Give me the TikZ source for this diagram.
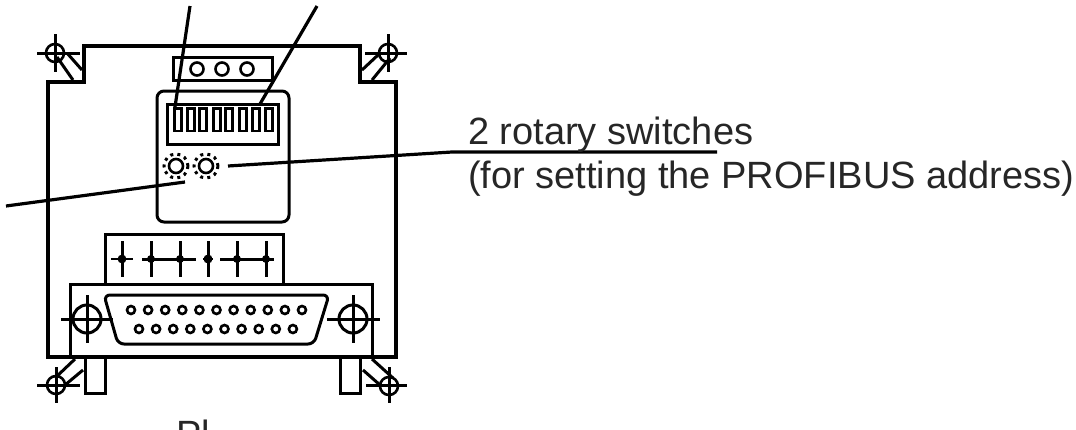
\documentclass[tikz,border=0pt]{standalone}
\usepackage{fontspec}
\setmainfont{Liberation Sans}
\tikzset{
  thick line/.style={line width=4.6pt,line join=miter},
  mid line/.style={line width=3pt},
  thin line/.style={line width=2.6pt},
  lead/.style={line width=3.2pt},
  label text/.style={anchor=base west,inner sep=0pt,font=\fontsize{38}{44}\selectfont,text=black!85}
}
\begin{document}
\begin{tikzpicture}[x=1pt,y=-1pt]
\useasboundingbox (0,0) rectangle (1076,429);
\clip (0,0) rectangle (1076,429);
% body
\draw[thick line] (84,46) -- (360,46) -- (360,82) -- (396,82) -- (396,357) -- (48,357) -- (48,82) -- (84,82) -- cycle;
% top terminal
\draw[mid line] (173,57) rectangle (272,80);
\foreach \x in {197,222,247} \draw[thin line] (\x,69) circle (6.5);
% panel
\draw[mid line,rounded corners=7] (157,222) -- (157,91) -- (289,91) -- (289,222) -- cycle;
\draw[mid line] (167,104) rectangle (278,144);
\foreach \x in {178,191,203,217,229,243,256,269}
  \draw[thin line] (\x-3.4,108.5) rectangle (\x+3.4,131);
% rotary switches
\foreach \x/\n in {176/rotA,206/rotB}{
  \node[circle,draw,line width=2.6pt,minimum size=14pt,inner sep=0pt] (\n) at (\x,166) {};
  \draw[line width=3pt,dash pattern=on 3pt off 4.2pt] (\x,166) circle (12);
}
% connector block
\draw[mid line] (105,283) -- (105,234) -- (283,234) -- (283,283);
\foreach \x in {122,151,180,208,237,266} \draw[mid line] (\x,241) -- (\x,277);
\draw[thin line] (111,259) -- (133,259);
\draw[mid line] (142,259) -- (196,259);
\draw[thin line] (203,259) -- (213,259);
\draw[mid line] (220,259) -- (274,259);
\draw[thin line] (122,259) circle (3);
\foreach \x in {151,180,237,266} \fill (\x,259) circle (4);
\fill (208,259) circle (4.5);
% D-sub housing
\draw[mid line] (70,357) -- (70,284) -- (372,284) -- (372,357);
\draw[mid line,rounded corners=6] (104,295) -- (329,295) -- (314,344) -- (118,344) -- cycle;
\foreach \i in {0,...,10} \draw[line width=2.6pt] (131+17.1*\i,310) circle (4);
\foreach \i in {0,...,9} \draw[line width=2.6pt] (139+17.1*\i,329) circle (4);
% D-sub screws
\draw[mid line] (87,319) circle (14);
\draw[mid line] (61,319) -- (113,319) (87,295) -- (87,343);
\draw[mid line] (353,319) circle (14);
\draw[mid line] (327,319) -- (380,319) (353,295) -- (353,343);
% corner marks
\draw[thin line] (55,53) circle (9);
\draw[mid line] (37,53) -- (80,53) (55,34) -- (55,72);
\draw[thin line] (388,53) circle (9);
\draw[mid line] (365,53) -- (407,53) (388,34) -- (388,72);
\draw[thin line] (56,385) circle (9);
\draw[mid line] (37,385) -- (80,385) (56,367) -- (56,403);
\draw[thin line] (389,386) circle (9);
\draw[mid line] (366,385) -- (407,385) (389,367) -- (389,403);
% tabs
\draw[mid line] (57,57) -- (73,80) (67,53) -- (82,70);
\draw[mid line] (362,70) -- (378,55) (372,80) -- (390,58);
\draw[mid line] (55,378) -- (75,359) (65,385) -- (83,370);
\draw[mid line] (372,359) -- (393,378) (363,370) -- (380,385);
\draw[mid line] (85,357) -- (85,393) -- (105,393) -- (105,357);
\draw[mid line] (340,357) -- (340,393) -- (360,393) -- (360,357);
% leaders
\coordinate (leadA) at (190,6);
\coordinate (dipA) at (175,107);
\coordinate (leadB) at (317,6);
\coordinate (dipB) at (260,104);
\coordinate (leadC) at (6,206);
\coordinate (rotC) at (185,182);
\coordinate (rotD) at (228,166);
\coordinate (lineBend) at (452,152);
\coordinate (lineEnd) at (717,152);
\draw[lead] (leadA) -- (dipA);
\draw[lead] (leadB) -- (dipB);
\draw[lead] (leadC) -- (rotC);
\draw[lead] (rotD) -- (lineBend) -- (lineEnd);
% text
\node[label text] (t1) at (468,144) {2 rotary switches};
\node[label text] (t2) at (468,188) {(for setting the PROFIBUS address)};
\node[label text] (t3) at (176,447) {Pl};
\end{tikzpicture}
\end{document}
